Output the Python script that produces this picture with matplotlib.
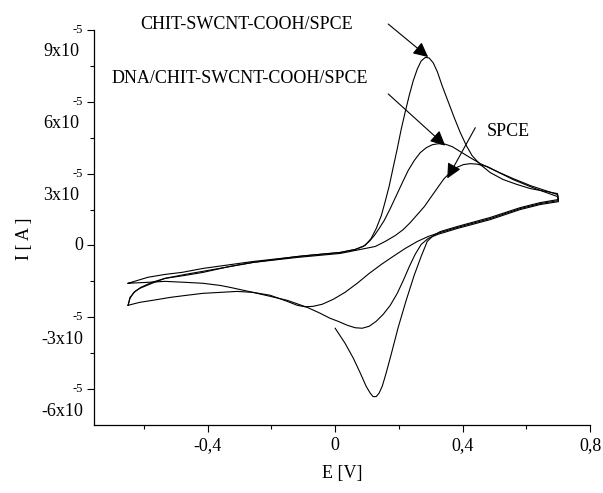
import matplotlib
matplotlib.use("Agg")
import matplotlib.pyplot as plt
import matplotlib.transforms as mtransforms
import numpy as np

plt.rcParams['font.family'] = ['Liberation Serif', 'DejaVu Serif']

SCALE = 1e-5  # current values below are in units of 1e-5 A

# ---- SPCE (bare electrode): anodic sweep then cathodic sweep ----
spce_E = [-0.650, -0.644, -0.632, -0.613, -0.575, -0.534, -0.471, -0.415, -0.330, -0.258,
          -0.119, 0.016, 0.079, 0.126, 0.157, 0.189, 0.214, 0.236, 0.258, 0.280,
          0.302, 0.324, 0.342, 0.361, 0.380, 0.402, 0.424, 0.446, 0.478, 0.509,
          0.559, 0.613, 0.698,
          0.701, 0.644, 0.581, 0.487, 0.383, 0.330, 0.292, 0.258, 0.220, 0.182,
          0.145, 0.107, 0.069, 0.031, -0.006, -0.041, -0.069, -0.094, -0.119, -0.151,
          -0.204, -0.258, -0.308, -0.361, -0.415, -0.465, -0.518, -0.572, -0.613, -0.650]
spce_I = [-2.50, -2.21, -1.96, -1.79, -1.58, -1.375, -1.25, -1.125, -0.875, -0.71,
          -0.50, -0.333, -0.167, -0.042, 0.167, 0.417, 0.667, 0.958, 1.292, 1.625,
          2.042, 2.458, 2.792, 3.042, 3.25, 3.375, 3.417, 3.396, 3.292, 3.083,
          2.792, 2.50, 2.125,
          1.875, 1.75, 1.542, 1.125, 0.75, 0.542, 0.375, 0.167, -0.125, -0.458,
          -0.792, -1.167, -1.583, -1.958, -2.25, -2.458, -2.542, -2.563, -2.50, -2.333,
          -2.08, -1.96, -1.92, -1.96, -2.00, -2.08, -2.17, -2.29, -2.375, -2.50]

# ---- DNA/CHIT-SWCNT-COOH/SPCE ----
dna_E = [-0.650, -0.588, -0.534, -0.481, -0.415, -0.258, -0.088, 0.016, 0.063, 0.088,
         0.107, 0.123, 0.138, 0.154, 0.173, 0.192, 0.211, 0.229, 0.248, 0.267,
         0.286, 0.305, 0.324, 0.346, 0.368, 0.393, 0.424, 0.456, 0.509, 0.559,
         0.628, 0.698,
         0.701, 0.644, 0.581, 0.487, 0.383, 0.321, 0.292, 0.270, 0.251, 0.233,
         0.214, 0.195, 0.173, 0.151, 0.129, 0.107, 0.085, 0.063, 0.038, 0.009,
         -0.016, -0.047, -0.088, -0.151, -0.204, -0.258, -0.330, -0.361, -0.415, -0.471,
         -0.534, -0.588, -0.650]
dna_I = [-1.58, -1.33, -1.21, -1.125, -0.96, -0.67, -0.42, -0.292, -0.167, -0.042,
         0.167, 0.417, 0.708, 1.042, 1.542, 2.083, 2.625, 3.125, 3.542, 3.875,
         4.083, 4.208, 4.25, 4.229, 4.125, 3.917, 3.667, 3.417, 3.083, 2.75,
         2.375, 2.042,
         1.83, 1.71, 1.50, 1.08, 0.708, 0.458, 0.292, 0.042, -0.375, -0.875,
         -1.458, -2.0, -2.5, -2.875, -3.167, -3.375, -3.458, -3.438, -3.333, -3.167,
         -3.042, -2.833, -2.583, -2.29, -2.125, -1.96, -1.75, -1.67, -1.58, -1.54,
         -1.50, -1.54, -1.58]

# ---- CHIT-SWCNT-COOH/SPCE ----
chit_E = [-0.650, -0.644, -0.628, -0.610, -0.575, -0.534, -0.471, -0.415, -0.258, -0.119,
          0.016, 0.063, 0.094, 0.113, 0.129, 0.145, 0.157, 0.170, 0.182, 0.195,
          0.207, 0.220, 0.233, 0.245, 0.258, 0.270, 0.283, 0.295, 0.308, 0.321,
          0.336, 0.355, 0.374, 0.393, 0.412, 0.430, 0.456, 0.487, 0.528, 0.572,
          0.613, 0.698,
          0.701, 0.644, 0.581, 0.487, 0.383, 0.330, 0.308, 0.289, 0.270, 0.248,
          0.223, 0.198, 0.176, 0.160, 0.148, 0.138, 0.129, 0.119, 0.110, 0.097,
          0.079, 0.057, 0.031, 0.000]
chit_I = [-2.50, -2.17, -1.92, -1.75, -1.54, -1.375, -1.21, -1.08, -0.71, -0.46,
          -0.292, -0.167, 0.0, 0.292, 0.708, 1.25, 1.833, 2.5, 3.25, 4.042,
          4.833, 5.583, 6.292, 6.875, 7.375, 7.708, 7.854, 7.833, 7.625, 7.25,
          6.667, 6.0, 5.333, 4.708, 4.167, 3.75, 3.375, 3.042, 2.75, 2.542,
          2.375, 2.167,
          1.92, 1.79, 1.58, 1.17, 0.79, 0.58, 0.417, 0.167, -0.458, -1.25,
          -2.292, -3.417, -4.542, -5.333, -5.875, -6.167, -6.313, -6.313, -6.167, -5.875,
          -5.333, -4.708, -4.083, -3.458]

y_major = [-6, -3, 0, 3, 6, 9]
y_minor = [-4.5, -1.5, 1.5, 4.5, 7.5]
y_mant = ['-6x10', '-3x10', '0', '3x10', '6x10', '9x10']
x_major = [-0.4, 0.0, 0.4, 0.8]
x_minor = [-0.6, -0.2, 0.2, 0.6]
x_labels = ['-0,4', '0', '0,4', '0,8']

fig = plt.figure(figsize=(6.03, 4.93), dpi=100)
ax = fig.add_axes([94 / 603, (493 - 425) / 493, 496 / 603, 395 / 493])

for E, I in [(spce_E, spce_I), (dna_E, dna_I), (chit_E, chit_I)]:
    ax.plot(E, np.array(I) * SCALE, color='black', lw=0.8,
            solid_joinstyle='round', antialiased=True)

ax.set_xlim(-0.757, 0.80)
ax.set_ylim(-7.5 * SCALE, 8.96 * SCALE)

for s in ['top', 'right']:
    ax.spines[s].set_visible(False)
for s in ['left', 'bottom']:
    ax.spines[s].set_linewidth(0.9)

ax.set_xticks(x_major)
ax.set_xticklabels(x_labels, fontsize=13)
ax.set_xticks(x_minor, minor=True)
ax.tick_params(axis='x', which='major', direction='out', length=5, width=0.8, pad=4)
ax.tick_params(axis='x', which='minor', direction='out', length=3, width=0.8)

ax.set_yticks([v * SCALE for v in y_major])
ax.set_yticklabels([])
ax.set_yticks([v * SCALE for v in y_minor], minor=True)
ax.tick_params(axis='y', which='major', direction='out', length=5, width=0.8)
ax.tick_params(axis='y', which='minor', direction='out', length=3, width=0.8)

blend = mtransforms.blended_transform_factory(ax.transAxes, ax.transData)
for v, m in zip(y_major, y_mant):
    if m == '0':
        t = mtransforms.offset_copy(blend, fig=fig, x=-11, y=0, units='dots')
        ax.text(0, v * SCALE, m, transform=t, ha='right', va='center', fontsize=13)
        continue
    t1 = mtransforms.offset_copy(blend, fig=fig, x=-11, y=0, units='dots')
    ax.text(0, v * SCALE, '-5', transform=t1, ha='right', va='center', fontsize=9)
    dx = -15 if v > 0 else -11
    t2 = mtransforms.offset_copy(blend, fig=fig, x=dx, y=-22, units='dots')
    ax.text(0, v * SCALE, m, transform=t2, ha='right', va='center', fontsize=13)

ax.set_xlabel('E [V]', fontsize=13)
ax.xaxis.set_label_coords(0.5, -0.101)
ax.set_ylabel('I [ A ]', fontsize=13)
ax.yaxis.set_label_coords(-0.123, 0.471)

arrow = dict(arrowstyle='-|>,head_length=0.45,head_width=0.22', color='black',
             lw=0.8, shrinkA=0, shrinkB=0, mutation_scale=20)
ax.annotate('', xy=(0.292, 7.87 * SCALE), xytext=(0.1665, 9.25 * SCALE),
            arrowprops=arrow, annotation_clip=False)
ax.annotate('', xy=(0.3456, 4.17 * SCALE), xytext=(0.1665, 6.33 * SCALE),
            arrowprops=arrow, annotation_clip=False)
ax.annotate('', xy=(0.352, 2.80 * SCALE), xytext=(0.440, 4.92 * SCALE),
            arrowprops=arrow, annotation_clip=False)

ax.text(-0.278, 9.21 * SCALE, 'CHIT-SWCNT-COOH/SPCE', ha='center', va='center', fontsize=13)
ax.text(-0.2985, 6.96 * SCALE, 'DNA/CHIT-SWCNT-COOH/SPCE', ha='center', va='center', fontsize=13)
ax.text(0.545, 4.75 * SCALE, 'SPCE', ha='center', va='center', fontsize=13)

fig.savefig('out.png', dpi=100)
